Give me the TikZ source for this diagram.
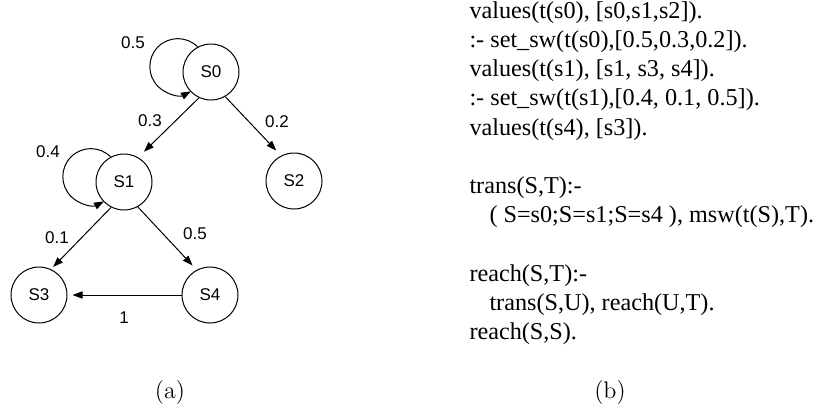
\documentclass[tikz,border=0pt]{standalone}
\usepackage{fontspec}
\newfontfamily\codefont{Liberation Serif}
\newfontfamily\etiqfont{Liberation Sans}
\usetikzlibrary{arrows.meta}

\begin{document}
\begin{tikzpicture}[
		x=0.5pt, y=0.5pt,
		line width=0.5pt,
		% Estilos: estados (circulos), pesos de las aristas y flechas
		estado/.style={circle, draw, minimum size=28pt, inner sep=0pt, font=\etiqfont\fontsize{8.5}{10}\selectfont},
		peso/.style={inner sep=1pt, font=\etiqfont\fontsize{8.5}{10}\selectfont},
		flecha/.style={-{Triangle[length=5pt, width=3.6pt]}},
		codigo/.style={align=left, inner sep=0pt, font=\codefont\fontsize{12.1}{14.6}\selectfont}
	]
	\useasboundingbox (0,0) rectangle (818,-408);

	% --- 1. Estados ---
	\node[estado] (S0) at (211, -72)  {S0};
	\node[estado] (S1) at (124, -182) {S1};
	\node[estado] (S2) at (294, -181) {S2};
	\node[estado] (S3) at (39, -295)  {S3};
	\node[estado] (S4) at (210, -295) {S4};

	% --- 2. Transiciones ---
	\draw[flecha] (S0.118) arc[start angle=45, end angle=298, radius=14pt];
	\draw[flecha] (S1.118) arc[start angle=45, end angle=298, radius=14pt];
	\draw[flecha, shorten >=4pt] (S0.245) -- (S1.60);
	\draw[flecha, shorten >=3.5pt] (S0.300) -- (S2.117);
	\draw[flecha, shorten >=1.5pt] (S1.243) -- (S3.65);
	\draw[flecha, shorten >=3pt] (S1.299) -- (S4.118);
	\draw[flecha, shorten >=2.5pt] (S4) -- (S3);

	% --- 3. Probabilidades ---
	\node[peso] (p00) at (133, -43)  {0.5};
	\node[peso] (p01) at (150, -121) {0.3};
	\node[peso] (p02) at (277, -122) {0.2};
	\node[peso] (p11) at (48, -152)  {0.4};
	\node[peso] (p13) at (57, -238)  {0.1};
	\node[peso] (p14) at (195, -234) {0.5};
	\node[peso] (p43) at (124, -318) {1};

	% --- 4. Programa ---
	\node[codigo, anchor=north west] (prog) at (469, -1) {%
		values(t(s0), [s0,s1,s2]).\\
		:- set\_sw(t(s0),[0.5,0.3,0.2]).\\
		values(t(s1), [s1, s3, s4]).\\
		:- set\_sw(t(s1),[0.4, 0.1, 0.5]).\\
		values(t(s4), [s3]).\\[14.6pt]
		trans(S,T):-\\
		\hspace*{10pt}( S=s0;S=s1;S=s4 ), msw(t(S),T).\\[14.6pt]
		reach(S,T):-\\
		\hspace*{10pt}trans(S,U), reach(U,T).\\
		reach(S,S).};

	% --- 5. Subtitulos ---
	\node[font=\fontsize{12}{14}\selectfont] (capa) at (170, -393) {(a)};
	\node[font=\fontsize{12}{14}\selectfont] (capb) at (610, -393) {(b)};

\end{tikzpicture}
\end{document}
